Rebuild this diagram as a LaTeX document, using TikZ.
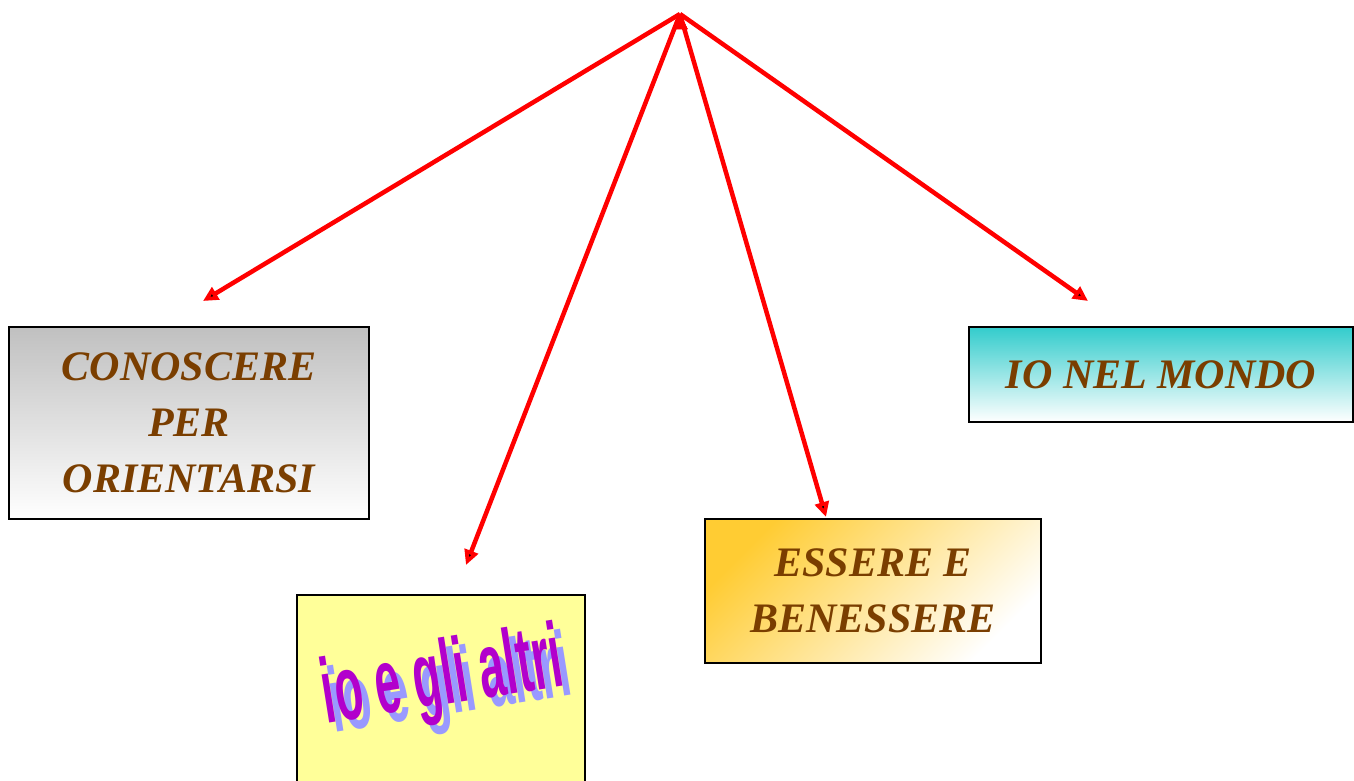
\documentclass[tikz,border=0pt]{standalone}
\usepackage{fontspec}
\setmainfont{Liberation Serif}
\newfontfamily\artfont{Liberation Sans}
\usetikzlibrary{arrows.meta}
\definecolor{textbrown}{RGB}{122,62,0}
\definecolor{boxgray}{RGB}{192,192,192}
\definecolor{boxteal}{RGB}{51,204,204}
\definecolor{boxgold}{RGB}{255,204,51}
\definecolor{boxyellow}{RGB}{255,255,153}
\definecolor{artpurple}{RGB}{178,0,204}
\definecolor{artshadow}{RGB}{153,153,255}

\begin{document}
\begin{tikzpicture}
[x=1pt,y=-1pt,
 every node/.style={inner sep=0pt,outer sep=0pt},
 box/.style={rectangle,draw=black,line width=1.5pt,align=center,text=textbrown,
             font=\fontsize{42}{56}\selectfont\bfseries\itshape},
 art/.style={font=\fontsize{92}{92}\selectfont\artfont\bfseries,rotate=9},
 link/.style={draw=red,line width=4.5pt,-{Triangle[length=15pt,width=14pt]}}]
\useasboundingbox (0,0) rectangle (1354,780);
\clip (0,0) rectangle (1354,780);

\node[box,minimum width=360pt,minimum height=192pt,top color=boxgray,bottom color=white]
      (cono)   at (189,423)   {CONOSCERE\\PER\\ORIENTARSI};
\node[box,minimum width=288pt,minimum height=205pt,fill=boxyellow]
      (altri)  at (441,697.5) {};
\node[box,minimum width=336pt,minimum height=144pt,top color=boxgold,bottom color=white,shading angle=45]
      (essere) at (873,591)   {ESSERE E\\BENESSERE};
\node[box,minimum width=384pt,minimum height=95pt,top color=boxteal,bottom color=white]
      (mondo)  at (1161,374.5) {IO NEL MONDO};

% scritta inclinata con ombra
\node[art,text=artshadow] (altriS) at (451,690) {\scalebox{0.5}[1]{io e gli altri}};
\node[art,text=artpurple] (altriT) at (443,681) {\scalebox{0.5}[1]{io e gli altri}};

\coordinate (top)  at (680,14);
\coordinate (endA) at (203,301);
\coordinate (endB) at (466,565);
\coordinate (endC) at (826,517);
\coordinate (endD) at (1088,301);
\path[link] (top) edge (endA);
\path[link] (top) edge (endB);
\path[link] (top) edge (endC);
\path[link] (top) edge (endD);
\end{tikzpicture}
\end{document}
